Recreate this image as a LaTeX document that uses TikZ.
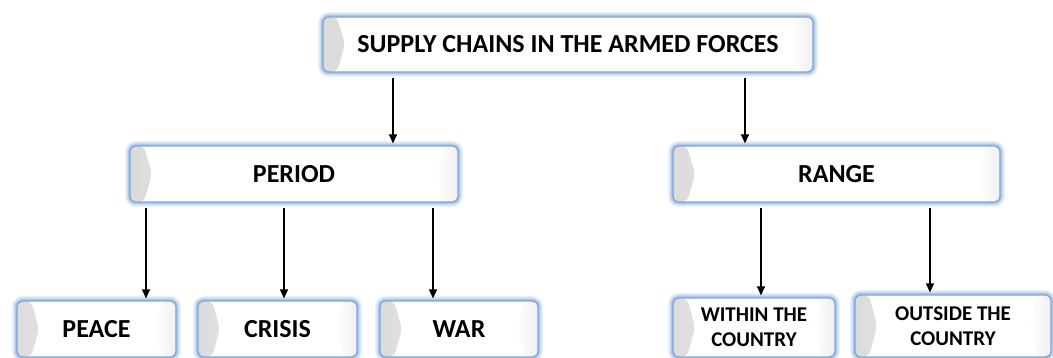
\documentclass[tikz,border=0pt]{standalone}
\usepackage{fontspec}
\setmainfont{Carlito}
\usetikzlibrary{arrows.meta}
\definecolor{glow}{HTML}{8EB4E3}
\definecolor{edgeblue}{HTML}{7FA5D6}
\tikzset{
 box/.style={rectangle, rounded corners=6pt, draw=edgeblue, line width=1.2pt, fill=white,
   font=\bfseries\fontsize{26}{28}\selectfont, align=center, inner sep=0pt,
   preaction={draw=glow, line width=10pt, draw opacity=0.18},
   preaction={draw=glow, line width=7pt, draw opacity=0.3},
   preaction={draw=glow, line width=4pt, draw opacity=0.55},
   path picture={
     \shade[left color=black!14, right color=white]
       (path picture bounding box.south west) -- ++(14pt,0pt) -- ([xshift=22pt]$(path picture bounding box.south west)!0.5!(path picture bounding box.north west)$)
       -- ([xshift=14pt]path picture bounding box.north west) -- (path picture bounding box.north west) -- cycle;
     \shade[right color=black!6, left color=white]
       (path picture bounding box.south east) -- ++(-14pt,0pt) -- ([xshift=-22pt]$(path picture bounding box.south east)!0.5!(path picture bounding box.north east)$)
       -- ([xshift=-14pt]path picture bounding box.north east) -- (path picture bounding box.north east) -- cycle;}},
 boxsmall/.style={box, font=\bfseries\fontsize{21}{25}\selectfont},
 arr/.style={-{Triangle[length=9pt,width=8pt]}, line width=1.3pt, black, shorten <=5pt, shorten >=2pt},
}
\usetikzlibrary{calc}
\begin{document}
\begin{tikzpicture}[x=1pt,y=-1pt]
\useasboundingbox (0,0) rectangle (1053,358);
\fill[white] (0,0) rectangle (1053,358);
\node[box, minimum width=490pt, minimum height=55pt] (top) at (568,44.5) {SUPPLY CHAINS IN THE ARMED FORCES};
\node[box, minimum width=328pt, minimum height=56pt] (period) at (294,174) {PERIOD};
\node[box, minimum width=327pt, minimum height=56pt] (range) at (836.5,174) {RANGE};
\node[box, minimum width=159pt, minimum height=56pt] (peace) at (96.5,329) {PEACE};
\node[box, minimum width=159pt, minimum height=56pt] (crisis) at (277.5,329) {CRISIS};
\node[box, minimum width=158pt, minimum height=56pt] (war) at (459,329) {WAR};
\node[boxsmall, minimum width=162pt, minimum height=59pt] (within) at (754,327.5) {WITHIN THE\\COUNTRY};
\node[boxsmall, minimum width=196pt, minimum height=62pt] (outside) at (953,326) {OUTSIDE THE\\COUNTRY};
\coordinate (xa) at (393,0);
\coordinate (xb) at (745,0);
\coordinate (xc) at (146,0);
\coordinate (xd) at (284,0);
\coordinate (xe) at (433,0);
\coordinate (xf) at (761,0);
\coordinate (xg) at (930,0);
\draw[arr] (top.south -| xa) -- (period.north -| xa);
\draw[arr] (top.south -| xb) -- (range.north -| xb);
\draw[arr] (period.south -| xc) -- (peace.north -| xc);
\draw[arr] (period.south -| xd) -- (crisis.north -| xd);
\draw[arr] (period.south -| xe) -- (war.north -| xe);
\draw[arr] (range.south -| xf) -- (within.north -| xf);
\draw[arr] (range.south -| xg) -- (outside.north -| xg);
\end{tikzpicture}
\end{document}
